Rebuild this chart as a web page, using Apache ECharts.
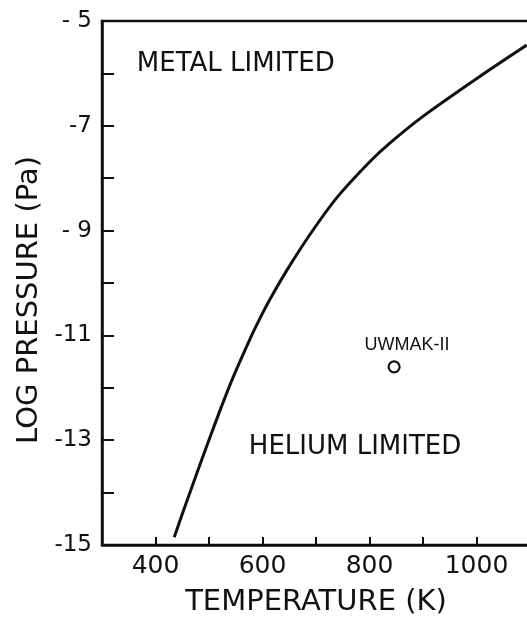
<!DOCTYPE html>
<html>
<head>
<meta charset="utf-8">
<script src="https://cdn.jsdelivr.net/npm/echarts@6/dist/echarts.min.js"></script>
<style>
  html, body { margin: 0; padding: 0; background: #fff; }
  #chart { width: 527px; height: 623px; }
</style>
</head>
<body>
<div id="chart"></div>
<script>
// Boundary between metal-limited and helium-limited operation
const temperatureK = [435, 459, 483, 506, 524, 545, 577, 595, 614, 646, 689, 739, 801, 838, 900, 1006, 1094];
const logPressure = [-14.85, -14.15, -13.47, -12.83, -12.34, -11.80, -11.06, -10.68, -10.31, -9.75, -9.07, -8.37, -7.68, -7.33, -6.82, -6.06, -5.46];

// Design point
const designName = 'UWMAK-II';
const designPoint = [846, -11.6];

// Region annotations
const regionNames = ['METAL LIMITED', 'HELIUM LIMITED'];
const regionAnchors = [[550, -5.82], [773, -13.13]];

// Tick labels
const xTickLabels = { 400: '400', 600: '600', 800: '800', 1000: '1000' };
const yTickLabels = { '-15': '-15', '-13': '-13', '-11': '-11', '-9': '- 9', '-7': '-7', '-5': '- 5' };

const ink = '#111';
const font = 'DejaVu Sans';

const chart = echarts.init(document.getElementById('chart'));
chart.setOption({
  backgroundColor: '#fff',
  animation: false,
  grid: {
    left: 102, top: 21, bottom: 78, right: -3,
    outerBoundsMode: 'none',
    containLabel: false,
    show: true, borderColor: ink, borderWidth: 2.5, backgroundColor: 'transparent'
  },
  xAxis: {
    type: 'value', min: 300, max: 1100, interval: 100,
    name: 'TEMPERATURE (K)', nameLocation: 'middle', nameGap: 43,
    nameTextStyle: { fontFamily: font, fontSize: 29, color: ink },
    axisLine: { lineStyle: { color: ink, width: 2.5 } },
    axisTick: { inside: true, length: 8, lineStyle: { color: ink, width: 2 } },
    axisLabel: {
      margin: 9, fontFamily: font, fontSize: 25, color: ink,
      formatter: v => xTickLabels[v] || ''
    },
    splitLine: { show: false }
  },
  yAxis: {
    type: 'value', min: -15, max: -5, interval: 1,
    name: 'LOG PRESSURE (Pa)', nameLocation: 'middle', nameGap: 58,
    nameTextStyle: { fontFamily: font, fontSize: 29, color: ink, padding: [0, 34, 0, 0] },
    axisLine: { lineStyle: { color: ink, width: 2.5 } },
    axisTick: { inside: true, length: 12, lineStyle: { color: ink, width: 2 } },
    axisLabel: {
      margin: 10, fontFamily: font, fontSize: 23, color: ink,
      formatter: v => yTickLabels[String(v)] || ''
    },
    splitLine: { show: false }
  },
  series: [
    {
      type: 'line',
      data: temperatureK.map((t, i) => [t, logPressure[i]]),
      smooth: 0.3,
      showSymbol: false,
      lineStyle: { color: ink, width: 3 },
      clip: true
    },
    {
      type: 'scatter',
      data: [{ name: designName, value: designPoint }],
      symbol: 'circle',
      symbolSize: 11,
      itemStyle: { color: '#fff', borderColor: ink, borderWidth: 2.2, opacity: 1 },
      label: {
        show: true, position: 'top', distance: 6, offset: [13, 0],
        formatter: p => p.name,
        fontFamily: 'Liberation Sans', fontSize: 18, color: ink, opacity: 1
      }
    },
    {
      type: 'scatter',
      data: regionNames.map((n, i) => ({ name: n, value: regionAnchors[i] })),
      symbolSize: 1,
      itemStyle: { color: 'rgba(0,0,0,0)', opacity: 1 },
      label: {
        show: true, position: 'inside',
        formatter: p => p.name,
        fontFamily: font, fontSize: 26, color: ink, opacity: 1
      }
    }
  ]
});
</script>
</body>
</html>
